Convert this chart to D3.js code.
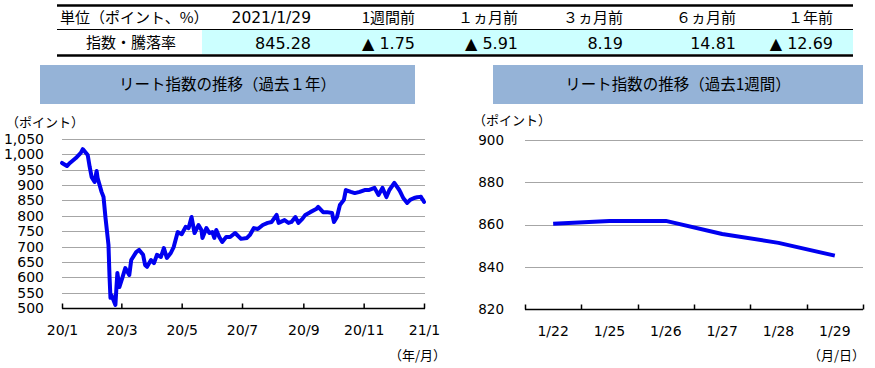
<!DOCTYPE html>
<html>
<head>
<meta charset="utf-8">
<script src="https://cdn.jsdelivr.net/npm/d3@7"></script>
<style>
  body { margin: 0; background: #fff; }
  svg { display: block; }
  .jp { font-family: "Noto Sans CJK JP", "Noto Sans", sans-serif; }
  .num { font-family: "DejaVu Sans", Verdana, sans-serif; }
</style>
</head>
<body>
<svg id="chart" width="875" height="368"></svg>
<script>
// Table contents
const tableHeaders = ['単位（ポイント、%）', '2021/1/29', '1週間前', '１ヵ月前', '３ヵ月前', '６ヵ月前', '１年前'];
const tableRow = ['指数・騰落率', '845.28', '▲ 1.75', '▲ 5.91', '8.19', '14.81', '▲ 12.69'];

// Past 1 year
const yearDates = [
    '2020-01-29', '2020-02-03', '2020-02-06', '2020-02-12', '2020-02-17', '2020-02-19', '2020-02-24',
    '2020-02-26', '2020-02-28', '2020-03-02', '2020-03-04', '2020-03-05', '2020-03-09', '2020-03-11',
    '2020-03-13', '2020-03-16', '2020-03-17', '2020-03-18', '2020-03-19', '2020-03-23', '2020-03-24',
    '2020-03-25', '2020-03-27', '2020-03-30', '2020-04-02', '2020-04-06', '2020-04-08', '2020-04-13',
    '2020-04-16', '2020-04-20', '2020-04-22', '2020-04-24', '2020-04-28', '2020-05-01', '2020-05-04',
    '2020-05-08', '2020-05-11', '2020-05-14', '2020-05-18', '2020-05-21', '2020-05-25', '2020-05-29',
    '2020-06-02', '2020-06-05', '2020-06-08', '2020-06-11', '2020-06-15', '2020-06-18', '2020-06-19',
    '2020-06-23', '2020-06-26', '2020-06-29', '2020-07-01', '2020-07-03', '2020-07-06', '2020-07-09',
    '2020-07-13', '2020-07-17', '2020-07-22', '2020-07-28', '2020-08-03', '2020-08-06', '2020-08-10',
    '2020-08-14', '2020-08-19', '2020-08-24', '2020-08-28', '2020-09-02', '2020-09-04', '2020-09-10',
    '2020-09-14', '2020-09-17', '2020-09-21', '2020-09-24', '2020-09-28', '2020-10-01', '2020-10-06',
    '2020-10-12', '2020-10-14', '2020-10-19', '2020-10-23', '2020-10-28', '2020-10-30', '2020-11-02',
    '2020-11-05', '2020-11-09', '2020-11-11', '2020-11-16', '2020-11-20', '2020-11-25', '2020-11-30',
    '2020-12-04', '2020-12-10', '2020-12-14', '2020-12-18', '2020-12-22', '2020-12-25', '2020-12-30',
    '2021-01-04', '2021-01-05', '2021-01-08', '2021-01-12', '2021-01-15', '2021-01-19', '2021-01-22',
    '2021-01-25', '2021-01-26', '2021-01-27', '2021-01-28', '2021-01-29'
];
const yearValues = [
    972, 962, 972, 988, 1005, 1017, 998,
    959, 926, 910, 946, 923, 878, 861,
    793, 705, 607, 533, 542, 510, 565,
    614, 568, 598, 630, 607, 656, 682,
    689, 673, 640, 634, 656, 646, 673,
    666, 695, 663, 679, 699, 747, 740,
    764, 760, 796, 744, 770, 754, 728,
    760, 744, 747, 728, 754, 731, 715,
    731, 731, 744, 725, 728, 738, 760,
    757, 770, 777, 780, 803, 777, 786,
    777, 780, 796, 777, 790, 803, 812,
    822, 829, 812, 812, 809, 780, 796,
    835, 852, 884, 878, 874, 878, 884,
    884, 891, 868, 891, 861, 884, 907,
    884, 878, 858, 842, 852, 858, 860.3,
    861.7, 861.7, 855.5, 851.3, 845.28
];
const yearTicks = ['2020-01-29', '2020-03-29', '2020-05-29', '2020-07-29', '2020-09-29', '2020-11-29', '2021-01-29'];
const yearTickLabels = ['20/1', '20/3', '20/5', '20/7', '20/9', '20/11', '21/1'];
const yearYTicks = [500, 550, 600, 650, 700, 750, 800, 850, 900, 950, 1000, 1050];

// Past 1 week
const weekDays = ['1/22', '1/25', '1/26', '1/27', '1/28', '1/29'];
const weekValues = [860.3, 861.7, 861.7, 855.5, 851.3, 845.28];
const weekYTicks = [820, 840, 860, 880, 900];

const svg = d3.select('#chart');
const lineColor = '#0000f0';
const gridColor = '#a6a6a6';
const titleFill = '#95b3d7';

// ---- Table ----
const tableLeft = 57, tableRight = 853;
const colRight = [null, 311, 415, 518, 623, 736, 833];

svg.append('rect')
    .attr('x', 202).attr('y', 30)
    .attr('width', tableRight - 202).attr('height', 24)
    .attr('fill', '#ccffff');

svg.append('line').attr('x1', tableLeft).attr('x2', tableRight)
    .attr('y1', 5.5).attr('y2', 5.5).attr('stroke', '#000').attr('stroke-width', 2.5);
svg.append('line').attr('x1', tableLeft).attr('x2', tableRight)
    .attr('y1', 29.5).attr('y2', 29.5).attr('stroke', '#000').attr('stroke-width', 1);
svg.append('line').attr('x1', tableLeft).attr('x2', tableRight)
    .attr('y1', 55.5).attr('y2', 55.5).attr('stroke', '#000').attr('stroke-width', 2.5);

tableHeaders.forEach((h, i) => {
    let t = svg.append('text')
        .attr('class', i == 1 ? 'num' : 'jp')
        .attr('y', 18)
        .attr('dy', '0.35em')
        .style('font-size', i == 1 ? '15.5px' : '15px')
        .text(h);
    if (i == 0) {
        t.attr('x', 60).attr('text-anchor', 'start');
    } else {
        t.attr('x', colRight[i]).attr('text-anchor', 'end');
    }
});

tableRow.forEach((v, i) => {
    let t = svg.append('text')
        .attr('class', i == 0 ? 'jp' : 'num')
        .attr('y', 43)
        .attr('dy', '0.35em')
        .style('font-size', i == 0 ? '15px' : '16px')
        .text(v);
    if (i == 0) {
        t.attr('x', 131).attr('text-anchor', 'middle');
    } else {
        t.attr('x', colRight[i]).attr('text-anchor', 'end');
    }
});

// ---- Title boxes ----
function titleBox(x, w, label) {
    svg.append('rect')
        .attr('x', x).attr('y', 65)
        .attr('width', w).attr('height', 39)
        .attr('fill', titleFill);
    svg.append('text')
        .attr('class', 'jp')
        .attr('x', x + w / 2).attr('y', 85)
        .attr('dy', '0.35em')
        .attr('text-anchor', 'middle')
        .style('font-size', '15.5px')
        .text(label);
}
titleBox(40, 375, 'リート指数の推移（過去１年）');
titleBox(493, 370, 'リート指数の推移（過去1週間）');

// ---- Left chart: past 1 year ----
const parseDate = d3.timeParse('%Y-%m-%d');
const yearData = yearDates.map((d, i) => ({ date: parseDate(d), value: yearValues[i] }));

const xYear = d3.scaleTime()
    .domain([parseDate(yearTicks[0]), parseDate(yearTicks[yearTicks.length - 1])])
    .range([62, 424]);
const yYear = d3.scaleLinear()
    .domain([500, 1050])
    .range([308, 139]);

const leftG = svg.append('g');

leftG.append('g')
    .selectAll('line')
    .data(yearYTicks.slice(1))
    .enter().append('line')
    .attr('x1', 62).attr('x2', 425)
    .attr('y1', d => Math.round(yYear(d)) + 0.5)
    .attr('y2', d => Math.round(yYear(d)) + 0.5)
    .attr('stroke', gridColor).attr('stroke-width', 1);

let yearYAxis = d3.axisLeft(yYear)
    .tickValues(yearYTicks)
    .tickSize(0)
    .tickPadding(0)
    .tickFormat(d3.format(','));
leftG.append('g')
    .attr('class', 'num')
    .attr('transform', 'translate(44,0)')
    .call(yearYAxis)
    .call(g => g.select('.domain').remove())
    .selectAll('text')
    .style('font-size', '14px')
    .attr('fill', '#000');

let yearXAxis = d3.axisBottom(xYear)
    .tickValues(yearTicks.map(parseDate))
    .tickSize(-5)
    .tickPadding(17)
    .tickFormat((d, i) => yearTickLabels[i]);
leftG.append('g')
    .attr('class', 'num')
    .attr('transform', 'translate(0,308.5)')
    .call(yearXAxis)
    .call(g => g.select('.domain').attr('d', 'M62,0H425').attr('stroke-width', 1.5))
    .call(g => g.selectAll('.tick line').attr('stroke-width', 1.5))
    .selectAll('text')
    .style('font-size', '14px')
    .attr('fill', '#000');

leftG.append('path')
    .datum(yearData)
    .attr('fill', 'none')
    .attr('stroke', lineColor)
    .attr('stroke-width', 4)
    .attr('stroke-linejoin', 'round')
    .attr('stroke-linecap', 'round')
    .attr('d', d3.line().x(d => xYear(d.date)).y(d => yYear(d.value)));

leftG.append('text')
    .attr('class', 'jp')
    .attr('x', 6).attr('y', 122)
    .attr('dy', '0.35em')
    .style('font-size', '13px')
    .text('（ポイント）');
leftG.append('text')
    .attr('class', 'jp')
    .attr('x', 446).attr('y', 355)
    .attr('dy', '0.35em')
    .attr('text-anchor', 'end')
    .style('font-size', '13px')
    .text('（年/月）');

// ---- Right chart: past 1 week ----
const xWeek = d3.scaleBand()
    .domain(weekDays)
    .range([525, 863])
    .padding(0);
const yWeek = d3.scaleLinear()
    .domain([820, 900])
    .range([309, 140]);

const rightG = svg.append('g');

rightG.append('g')
    .selectAll('line')
    .data(weekYTicks.slice(1))
    .enter().append('line')
    .attr('x1', 525).attr('x2', 863)
    .attr('y1', d => Math.round(yWeek(d)) + 0.5)
    .attr('y2', d => Math.round(yWeek(d)) + 0.5)
    .attr('stroke', gridColor).attr('stroke-width', 1);

let weekYAxis = d3.axisLeft(yWeek)
    .tickValues(weekYTicks)
    .tickSize(0)
    .tickPadding(0);
rightG.append('g')
    .attr('class', 'num')
    .attr('transform', 'translate(504,0)')
    .call(weekYAxis)
    .call(g => g.select('.domain').remove())
    .selectAll('text')
    .style('font-size', '13.5px')
    .attr('fill', '#000');

// Category axis: ticks on band edges, labels in band centres
let weekXAxis = d3.axisBottom(xWeek)
    .tickSize(0)
    .tickPadding(17);
let weekAxisG = rightG.append('g')
    .attr('class', 'num')
    .attr('transform', 'translate(0,309.5)')
    .call(weekXAxis)
    .call(g => g.select('.domain').attr('d', 'M525,0H863').attr('stroke-width', 1.5));
weekAxisG.selectAll('text')
    .style('font-size', '14px')
    .attr('fill', '#000');
weekAxisG.selectAll('.edge')
    .data(weekDays.concat(['end']))
    .enter().append('line')
    .attr('class', 'edge')
    .attr('x1', (d, i) => Math.round(i < weekDays.length ? xWeek(d) : xWeek.range()[1]) + 0.5)
    .attr('x2', (d, i) => Math.round(i < weekDays.length ? xWeek(d) : xWeek.range()[1]) + 0.5)
    .attr('y1', 0).attr('y2', -5)
    .attr('stroke', '#000').attr('stroke-width', 1.5);

rightG.append('path')
    .datum(weekValues)
    .attr('fill', 'none')
    .attr('stroke', lineColor)
    .attr('stroke-width', 4)
    .attr('stroke-linejoin', 'round')
    .attr('d', d3.line()
        .x((d, i) => xWeek(weekDays[i]) + xWeek.bandwidth() / 2)
        .y(d => yWeek(d)));

rightG.append('text')
    .attr('class', 'jp')
    .attr('x', 473).attr('y', 120)
    .attr('dy', '0.35em')
    .style('font-size', '13px')
    .text('（ポイント）');
rightG.append('text')
    .attr('class', 'jp')
    .attr('x', 865).attr('y', 355)
    .attr('dy', '0.35em')
    .attr('text-anchor', 'end')
    .style('font-size', '13px')
    .text('（月/日）');
</script>
</body>
</html>
